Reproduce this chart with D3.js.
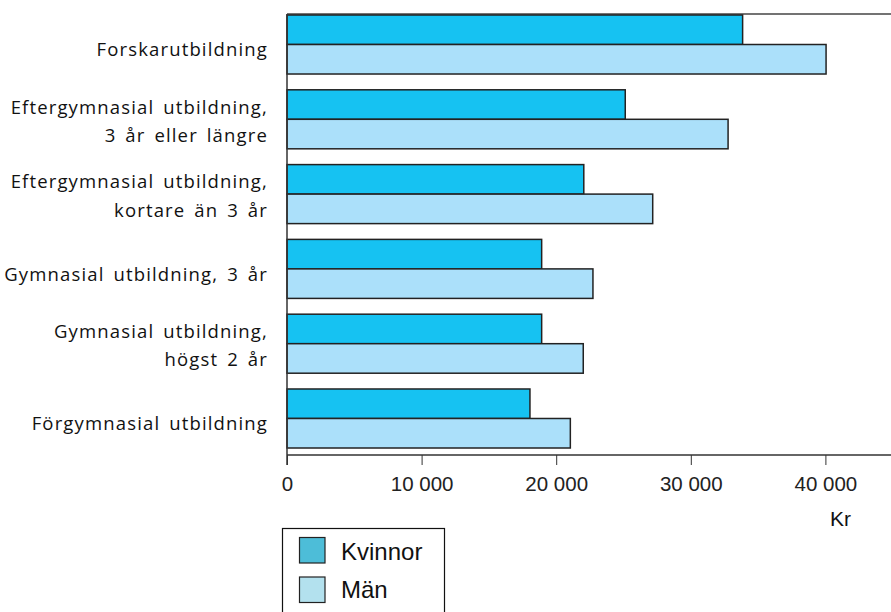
<!DOCTYPE html>
<html><head><meta charset="utf-8">
<script src="https://cdn.jsdelivr.net/npm/d3@7"></script>
<style>body{margin:0;background:#fff;}svg{display:block;}</style>
</head><body>
<div id="chart"></div>
<script>
const categories = [
  ["Forskarutbildning"],
  ["Eftergymnasial utbildning,", "3 år eller längre"],
  ["Eftergymnasial utbildning,", "kortare än 3 år"],
  ["Gymnasial utbildning, 3 år"],
  ["Gymnasial utbildning,", "högst 2 år"],
  ["Förgymnasial utbildning"]
];
const seriesNames = ["Kvinnor", "Män"];
const kvinnor = [33850, 25130, 22050, 18920, 18920, 18050];
const man = [40050, 32770, 27170, 22730, 22010, 21050];
const xTicks = [0, 10000, 20000, 30000, 40000];
const xTickLabels = ["0", "10 000", "20 000", "30 000", "40 000"];
const unitLabel = "Kr";

const W = 891, H = 612;
const svg = d3.select("#chart").append("svg").attr("width", W).attr("height", H);
const x0 = 287, xEnd = 891, yTop = 14, yAxis = 455;
const x = d3.scaleLinear().domain([0, 40000]).range([x0, 825.4]);
const ids = categories.map((c, i) => i);
const y = d3.scaleBand().domain(ids).range([15, 448]).paddingInner(0.211).paddingOuter(0);
const sub = d3.scaleBand().domain(seriesNames).range([0, y.bandwidth()]);
const fills = {"Kvinnor": "#16c2f2", "Män": "#abe0fa"};
const legendFills = {"Kvinnor": "#4dbdd8", "Män": "#b3e1ee"};
const data = ids.map(i => ({i, vals: [{k: "Kvinnor", v: kvinnor[i]}, {k: "Män", v: man[i]}]}));
const tickFont = "'Liberation Sans', Arial, sans-serif";

// frame top line
svg.append("line").attr("x1", x0).attr("x2", xEnd).attr("y1", yTop).attr("y2", yTop)
  .attr("stroke", "#444").attr("stroke-width", 1.5);

const g = svg.selectAll("g.grp").data(data).join("g").attr("class", "grp")
  .attr("transform", d => `translate(0,${y(d.i)})`);
g.selectAll("rect").data(d => d.vals).join("rect")
  .attr("x", x(0)).attr("y", d => sub(d.k))
  .attr("width", d => x(d.v) - x(0)).attr("height", sub.bandwidth())
  .attr("fill", d => fills[d.k]).attr("stroke", "#222").attr("stroke-width", 1.5);

// left axis line
svg.append("line").attr("x1", x0).attr("x2", x0).attr("y1", yTop).attr("y2", yAxis + 10)
  .attr("stroke", "#333").attr("stroke-width", 1.5);

// bottom axis
const xAxis = d3.axisBottom(x).tickValues(xTicks).tickFormat((d, i) => xTickLabels[i]).tickSize(10).tickSizeOuter(0);
const ax = svg.append("g").attr("transform", `translate(0,${yAxis})`).call(xAxis);
ax.select(".domain").remove();
ax.append("line").attr("x1", x0).attr("x2", xEnd).attr("y1", 0).attr("y2", 0).attr("stroke", "#333").attr("stroke-width", 1.5);
ax.selectAll(".tick line").attr("stroke", "#333").attr("stroke-width", 1);
ax.selectAll(".tick text").attr("y", 29).attr("dy", "0.35em")
  .attr("font-family", tickFont).attr("font-size", 20.5).attr("fill", "#222");

svg.append("text").attr("x", 840.5).attr("y", 519).attr("dy", "0.35em").attr("text-anchor", "middle")
  .attr("font-family", tickFont).attr("font-size", 21).attr("fill", "#111").text(unitLabel);

// category labels
const lab = svg.selectAll("text.cat").data(data).join("text").attr("class", "cat")
  .attr("font-family", "'Open Sans', sans-serif").attr("font-size", 18.5).attr("fill", "#111")
  .attr("letter-spacing", "1.15px").attr("word-spacing", "3px")
  .attr("text-anchor", "end");
lab.each(function(d) {
  const lines = categories[d.i];
  const cy = y(d.i) + y.bandwidth() / 2;
  const t = d3.select(this);
  const off = lines.length === 1 ? 5.5 : 2;
  lines.forEach((ln, j) => {
    t.append("tspan").attr("x", 268)
      .attr("y", cy + off + (j - (lines.length - 1) / 2) * 28.5)
      .attr("dy", "0.35em").text(ln);
  });
});

// legend
const lg = svg.append("g");
lg.append("rect").attr("x", 282.5).attr("y", 528.5).attr("width", 162).attr("height", 100)
  .attr("fill", "#fff").attr("stroke", "#111").attr("stroke-width", 1.2);
seriesNames.forEach((k, i) => {
  lg.append("rect").attr("x", 299.5).attr("y", 537.5 + i * 39.5).attr("width", 25.5).attr("height", 25.5)
    .attr("fill", legendFills[k]).attr("stroke", "#222").attr("stroke-width", 1.2);
  lg.append("text").attr("x", 341).attr("y", 551.5 + i * 38.5).attr("dy", "0.35em")
    .attr("font-family", tickFont).attr("font-size", 24).attr("fill", "#111").text(k);
});
</script>
</body></html>
